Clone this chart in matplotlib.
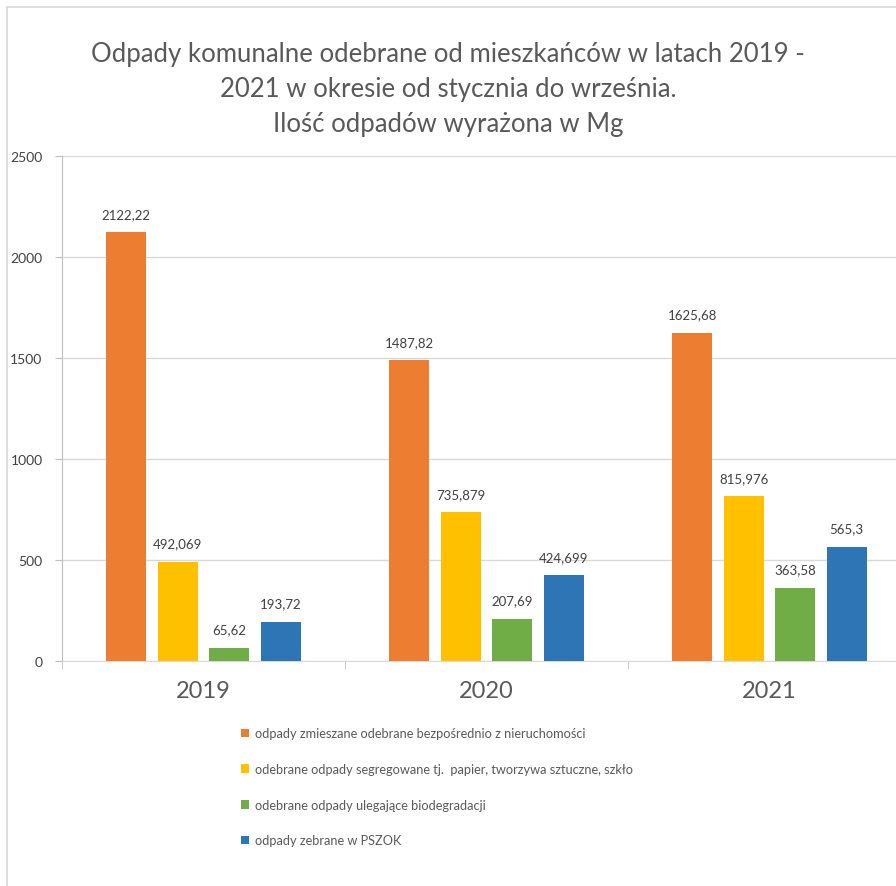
import numpy as np
import matplotlib.pyplot as plt
from matplotlib.lines import Line2D

# dane
years = ['2019', '2020', '2021']
mixed = [2122.22, 1487.82, 1625.68]
segregated = [492.069, 735.879, 815.976]
bio = [65.62, 207.69, 363.58]
pszok = [193.72, 424.699, 565.3]

series_names = [
    'odpady zmieszane odebrane bezpośrednio z nieruchomości',
    'odebrane odpady segregowane tj.  papier, tworzywa sztuczne, szkło',
    'odebrane odpady ulegające biodegradacji',
    'odpady zebrane w PSZOK',
]
colors = ['#ED7D31', '#FFC000', '#70AD47', '#2E75B6']
title = ('Odpady komunalne odebrane od mieszkańców w latach 2019 -\n'
         '2021 w okresie od stycznia do września.\n'
         'Ilość odpadów wyrażona w Mg')

plt.rcParams['font.family'] = ['Lato', 'DejaVu Sans']
txt = '#595959'

fig = plt.figure(figsize=(8.96, 8.87), dpi=100)
ax = fig.add_axes([62 / 896, 225 / 887, 849 / 896, 505 / 887])

x = np.arange(len(years))
width = 0.141
step = 0.182
for i, (vals, name, c) in enumerate(zip([mixed, segregated, bio, pszok], series_names, colors)):
    pos = x + (i - 1.5) * step
    bars = ax.bar(pos, vals, width=width, color=c, label=name, zorder=3)
    for b, v in zip(bars, vals):
        ax.annotate(f'{v:g}'.replace('.', ','), (b.get_x() + b.get_width() / 2, v),
                    xytext=(0, 9), textcoords='offset points', ha='center', va='bottom',
                    fontsize=9.5, color='#404040')

ax.set_xlim(-0.5, 2.5)
ax.set_ylim(0, 2500)
ax.set_yticks(np.arange(0, 2501, 500))
ax.grid(axis='y', color='#d9d9d9', linewidth=1, zorder=0)
ax.set_xticks(x)
ax.set_xticklabels(years, fontsize=17, color=txt)
ax.set_xticks([-0.5, 0.5, 1.5, 2.5], minor=True)
ax.tick_params(axis='x', which='major', length=0, pad=14)
ax.tick_params(axis='x', which='minor', length=6, color='#bfbfbf')
ax.tick_params(axis='y', length=5, color='#bfbfbf', labelsize=10, labelcolor='#404040', pad=9)
for s in ['top', 'right']:
    ax.spines[s].set_visible(False)
ax.spines['left'].set_color('#bfbfbf')
ax.spines['bottom'].set_color('#d9d9d9')

fig.text(0.5, 0.9526, title, ha='center', va='top', fontsize=18.5, color=txt, linespacing=1.5)

ax.legend(loc='upper left', bbox_to_anchor=(229 / 896, 170 / 887), bbox_transform=fig.transFigure,
          frameon=False, fontsize=9.2, labelcolor=txt, handlelength=0.65, handleheight=0.65,
          handletextpad=0.5, labelspacing=1.85)

# ramka wykresu
fig.add_artist(Line2D([7 / 896, 7 / 896], [0, 1 - 8 / 887], color='#d9d9d9', lw=1.2, transform=fig.transFigure))
fig.add_artist(Line2D([7 / 896, 1], [1 - 8 / 887, 1 - 8 / 887], color='#d9d9d9', lw=1.2, transform=fig.transFigure))

fig.savefig('out.png', dpi=100)
